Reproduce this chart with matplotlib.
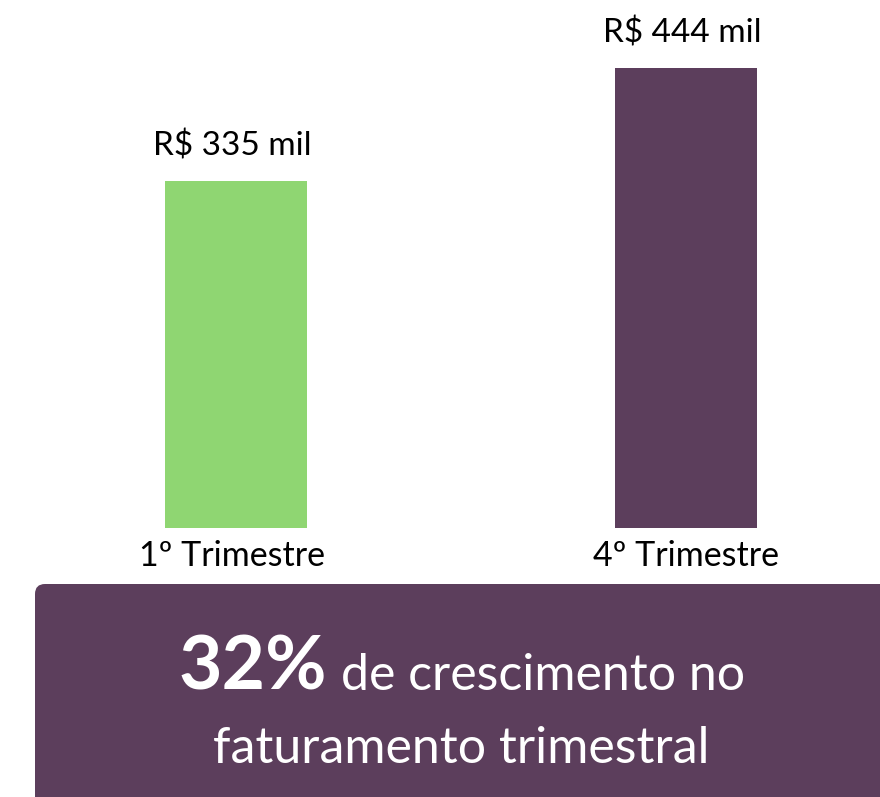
import matplotlib
matplotlib.use("Agg")
import matplotlib.pyplot as plt
from matplotlib.patches import FancyBboxPatch

# data
categories = ["1º Trimestre", "4º Trimestre"]
values = [335, 444]
value_labels = ["R$ 335 mil", "R$ 444 mil"]
bar_colors = ["#8fd672", "#5c3e5c"]
growth_pct = "32%"
growth_line1 = "de crescimento no"
growth_line2 = "faturamento trimestral"

plt.rcParams['font.family'] = ['Lato', 'DejaVu Sans']

W, H = 880, 797
fig = plt.figure(figsize=(W / 100, H / 100), dpi=100)

# bar axes: baseline at y=528 px from top, bars centred at x=236 and 686 px
base_px = 528
ax = fig.add_axes([0, (H - base_px) / H, 1, base_px / H])
px_per_unit = 450
ax.set_xlim(-236 / px_per_unit, (W - 236) / px_per_unit)
ax.set_ylim(0, base_px / (460 / 444))
x = range(len(categories))
ax.bar(x, values, width=142 / px_per_unit, color=bar_colors)
for i, v in enumerate(values):
    ax.annotate(value_labels[i], (i, v), xytext=(-4, 35), textcoords='offset pixels',
                ha='center', va='center', fontsize=24, color='black')
    ax.annotate(categories[i], (i, 0), xytext=(-4 if i == 0 else 0, -28),
                textcoords='offset pixels', ha='center', va='center',
                fontsize=24.5, color='black', annotation_clip=False)
ax.axis('off')

# overlay in pixel coordinates for the summary box
ov = fig.add_axes([0, 0, 1, 1], zorder=5)
ov.set_xlim(0, W)
ov.set_ylim(H, 0)
ov.axis('off')
ov.add_patch(FancyBboxPatch((35, 584), 900, 300,
                            boxstyle="round,pad=0,rounding_size=10",
                            facecolor="#5c3e5c", edgecolor='none'))

cx = 461.5
fig.canvas.draw()
r = fig.canvas.get_renderer()
t1 = ov.text(0, 690, growth_pct, fontsize=54, fontweight='bold', color='white',
             ha='left', va='baseline')
t2 = ov.text(0, 690, growth_line1, fontsize=36, color='white',
             ha='left', va='baseline')
w1 = t1.get_window_extent(r).width
w2 = t2.get_window_extent(r).width
gap = 14
left = cx - (w1 + gap + w2) / 2
t1.set_x(left)
t2.set_x(left + w1 + gap)
ov.text(cx, 763, growth_line2, fontsize=36, color='white', ha='center', va='baseline')

fig.savefig("out.png", dpi=100)
